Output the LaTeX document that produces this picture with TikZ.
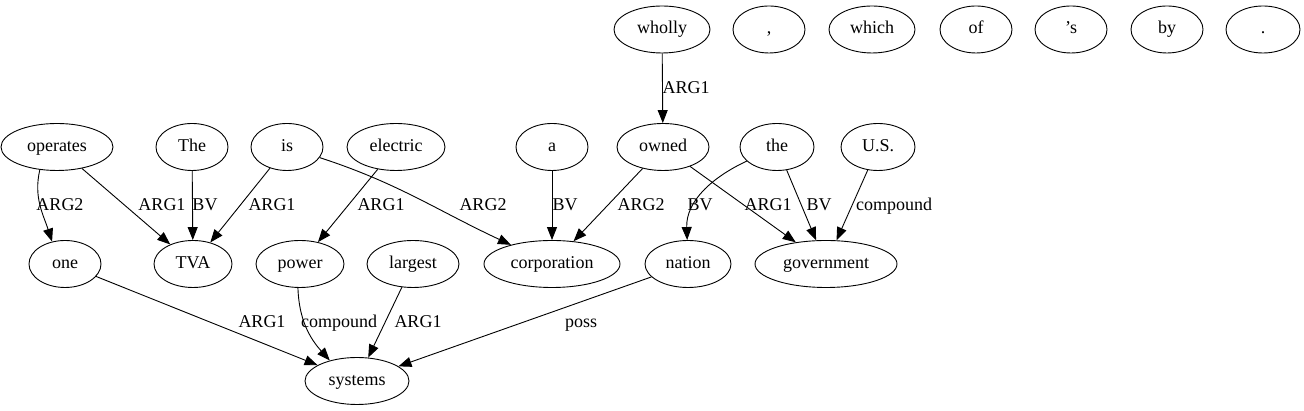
\documentclass[tikz,border=0pt]{standalone}
\usepackage{fontspec}
\setmainfont{Liberation Serif}
\usetikzlibrary{shapes.geometric,arrows.meta}
\begin{document}
\begin{tikzpicture}[x=1pt,y=1pt,
 nd/.style={draw,ellipse,line width=0.9pt,inner sep=0pt,minimum height=47pt,minimum width=#1,
   font=\fontsize{18}{21}\selectfont,text height=12.5pt,text depth=3.5pt},
 nd/.default=72pt,
 e/.style={draw,line width=0.9pt,-{Triangle[length=13pt,width=10pt]}},
 lb/.style={anchor=base,font=\fontsize{18}{21}\selectfont,inner sep=0pt}]
\useasboundingbox (0,0) rectangle (1304,411);
% row 1
\node[nd=96pt] (wholly) at (662,381.5) {wholly};
\node[nd=72pt] (comma) at (769,381.5) {,};
\node[nd=86pt] (which) at (872,381.5) {which};
\node[nd=72pt] (of) at (976,381.5) {of};
\node[nd=72pt] (s) at (1071,381.5) {’s};
\node[nd=72pt] (by) at (1167,381.5) {by};
\node[nd=74pt] (dot) at (1263,381.5) {.};
% row 2
\node[nd=112pt] (operates) at (57,264) {operates};
\node[nd=72pt] (The) at (192,264) {The};
\node[nd=72pt] (is) at (287,264) {is};
\node[nd=98pt] (electric) at (396,264) {electric};
\node[nd=72pt] (a) at (552,264) {a};
\node[nd=92pt] (owned) at (663,264) {owned};
\node[nd=74pt] (the) at (777,264) {the};
\node[nd=74pt] (US) at (878,264) {U.S.};
% row 3
\node[nd=72pt] (one) at (65,147) {one};
\node[nd=78pt] (TVA) at (193,147) {TVA};
\node[nd=88pt] (power) at (300,147) {power};
\node[nd=92pt] (largest) at (413,147) {largest};
\node[nd=136pt] (corporation) at (552,147) {corporation};
\node[nd=86pt] (nation) at (688,147) {nation};
\node[nd=142pt] (government) at (826,147) {government};
% row 4
\node[nd=104pt] (systems) at (357,30) {systems};
% edges
\draw[e] (wholly) -- (owned);
\draw[e] (operates.233) to[out=-103,in=108] (one.120);
\draw[e] (operates) -- (TVA);
\draw[e] (The) -- (TVA);
\draw[e] (is) -- (TVA);
\draw[e] (is) to[out=-18,in=155] (corporation);
\draw[e] (electric) -- (power);
\draw[e] (a) -- (corporation);
\draw[e] (owned) -- (corporation);
\draw[e] (owned) -- (government);
\draw[e] (the) to[out=205,in=92] (nation);
\draw[e] (the) -- (government);
\draw[e] (US) -- (government);
\draw[e] (one) -- (systems);
\draw[e] (power.265) to[out=-88,in=132] (systems.143);
\draw[e] (largest) -- (systems);
\draw[e] (nation) -- (systems);
% labels
\node[lb] (l1) at (686,317) {ARG1};
\node[lb] (l2) at (60,200) {ARG2};
\node[lb] (l3) at (162,200) {ARG1};
\node[lb] (l4) at (205,200) {BV};
\node[lb] (l5) at (272,200) {ARG1};
\node[lb] (l6) at (381,200) {ARG1};
\node[lb] (l7) at (483,200) {ARG2};
\node[lb] (l8) at (565,200) {BV};
\node[lb] (l9) at (641,200) {ARG2};
\node[lb] (l10) at (700,200) {BV};
\node[lb] (l11) at (768,200) {ARG1};
\node[lb] (l12) at (819,200) {BV};
\node[lb] (l13) at (894,200) {compound};
\node[lb] (l14) at (262,83) {ARG1};
\node[lb] (l15) at (339,83) {compound};
\node[lb] (l16) at (418,83) {ARG1};
\node[lb] (l17) at (581,83) {poss};
\end{tikzpicture}
\end{document}
